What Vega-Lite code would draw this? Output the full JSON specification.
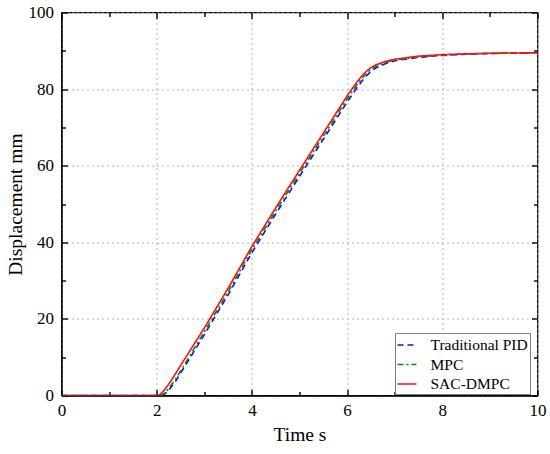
{
  "$schema": "https://vega.github.io/schema/vega-lite/v6.json",
  "width": 476,
  "height": 383,
  "autosize": "none",
  "padding": {"left": 61.5, "top": 12.5, "right": 12.5, "bottom": 58.5},
  "background": "white",
  "config": {
    "view": {"stroke": "black", "strokeWidth": 1.3},
    "axis": {
      "domainColor": "black",
      "domainWidth": 1.3,
      "tickColor": "black",
      "tickWidth": 1.4,
      "labelFont": "Liberation Serif",
      "labelFontSize": 17,
      "labelColor": "black",
      "labelFlush": false,
      "titleFont": "Liberation Serif",
      "titleFontSize": 19.5,
      "titleFontWeight": "normal",
      "titleColor": "black",
      "gridColor": "#b4b4b4",
      "gridDash": [2, 3],
      "gridWidth": 1
    }
  },
  "data": {
    "values": [
      {"t": 0, "d": 0, "s": "Traditional PID"},
      {"t": 2.1, "d": 0, "s": "Traditional PID"},
      {"t": 2.15, "d": 0.2, "s": "Traditional PID"},
      {"t": 2.25, "d": 1.3, "s": "Traditional PID"},
      {"t": 2.4, "d": 3.8, "s": "Traditional PID"},
      {"t": 2.6, "d": 7.8, "s": "Traditional PID"},
      {"t": 3.0, "d": 15.9, "s": "Traditional PID"},
      {"t": 3.5, "d": 26.3, "s": "Traditional PID"},
      {"t": 4.0, "d": 37.3, "s": "Traditional PID"},
      {"t": 4.5, "d": 47.4, "s": "Traditional PID"},
      {"t": 5.0, "d": 57.2, "s": "Traditional PID"},
      {"t": 5.5, "d": 66.9, "s": "Traditional PID"},
      {"t": 6.0, "d": 76.6, "s": "Traditional PID"},
      {"t": 6.1, "d": 78.4, "s": "Traditional PID"},
      {"t": 6.2, "d": 80.2, "s": "Traditional PID"},
      {"t": 6.3, "d": 81.9, "s": "Traditional PID"},
      {"t": 6.4, "d": 83.4, "s": "Traditional PID"},
      {"t": 6.5, "d": 84.6, "s": "Traditional PID"},
      {"t": 6.6, "d": 85.5, "s": "Traditional PID"},
      {"t": 6.8, "d": 86.6, "s": "Traditional PID"},
      {"t": 7.0, "d": 87.4, "s": "Traditional PID"},
      {"t": 7.5, "d": 88.3, "s": "Traditional PID"},
      {"t": 8.0, "d": 88.8, "s": "Traditional PID"},
      {"t": 8.5, "d": 89.1, "s": "Traditional PID"},
      {"t": 9.0, "d": 89.3, "s": "Traditional PID"},
      {"t": 10.0, "d": 89.5, "s": "Traditional PID"},
      {"t": 0, "d": 0, "s": "MPC"},
      {"t": 2.07, "d": 0, "s": "MPC"},
      {"t": 2.12, "d": 0.2, "s": "MPC"},
      {"t": 2.22, "d": 1.3, "s": "MPC"},
      {"t": 2.37, "d": 3.8, "s": "MPC"},
      {"t": 2.57, "d": 7.8, "s": "MPC"},
      {"t": 3.0, "d": 16.6, "s": "MPC"},
      {"t": 3.5, "d": 27.1, "s": "MPC"},
      {"t": 4.0, "d": 38.1, "s": "MPC"},
      {"t": 4.5, "d": 48.2, "s": "MPC"},
      {"t": 5.0, "d": 58.0, "s": "MPC"},
      {"t": 5.5, "d": 67.7, "s": "MPC"},
      {"t": 6.0, "d": 77.4, "s": "MPC"},
      {"t": 6.1, "d": 79.2, "s": "MPC"},
      {"t": 6.2, "d": 81.0, "s": "MPC"},
      {"t": 6.3, "d": 82.6, "s": "MPC"},
      {"t": 6.4, "d": 84.0, "s": "MPC"},
      {"t": 6.5, "d": 85.1, "s": "MPC"},
      {"t": 6.6, "d": 85.9, "s": "MPC"},
      {"t": 6.8, "d": 86.9, "s": "MPC"},
      {"t": 7.0, "d": 87.6, "s": "MPC"},
      {"t": 7.5, "d": 88.45, "s": "MPC"},
      {"t": 8.0, "d": 88.9, "s": "MPC"},
      {"t": 8.5, "d": 89.15, "s": "MPC"},
      {"t": 9.0, "d": 89.3, "s": "MPC"},
      {"t": 10.0, "d": 89.5, "s": "MPC"},
      {"t": 0, "d": 0, "s": "SAC-DMPC"},
      {"t": 2.0, "d": 0, "s": "SAC-DMPC"},
      {"t": 2.05, "d": 0.1, "s": "SAC-DMPC"},
      {"t": 2.15, "d": 1.2, "s": "SAC-DMPC"},
      {"t": 2.3, "d": 3.8, "s": "SAC-DMPC"},
      {"t": 2.5, "d": 7.8, "s": "SAC-DMPC"},
      {"t": 3.0, "d": 17.6, "s": "SAC-DMPC"},
      {"t": 3.5, "d": 28.0, "s": "SAC-DMPC"},
      {"t": 4.0, "d": 38.9, "s": "SAC-DMPC"},
      {"t": 4.5, "d": 49.0, "s": "SAC-DMPC"},
      {"t": 5.0, "d": 58.8, "s": "SAC-DMPC"},
      {"t": 5.5, "d": 68.5, "s": "SAC-DMPC"},
      {"t": 6.0, "d": 78.2, "s": "SAC-DMPC"},
      {"t": 6.1, "d": 80.0, "s": "SAC-DMPC"},
      {"t": 6.2, "d": 81.7, "s": "SAC-DMPC"},
      {"t": 6.3, "d": 83.3, "s": "SAC-DMPC"},
      {"t": 6.4, "d": 84.6, "s": "SAC-DMPC"},
      {"t": 6.5, "d": 85.6, "s": "SAC-DMPC"},
      {"t": 6.6, "d": 86.3, "s": "SAC-DMPC"},
      {"t": 6.8, "d": 87.2, "s": "SAC-DMPC"},
      {"t": 7.0, "d": 87.8, "s": "SAC-DMPC"},
      {"t": 7.5, "d": 88.6, "s": "SAC-DMPC"},
      {"t": 8.0, "d": 89.0, "s": "SAC-DMPC"},
      {"t": 8.5, "d": 89.2, "s": "SAC-DMPC"},
      {"t": 9.0, "d": 89.35, "s": "SAC-DMPC"},
      {"t": 10.0, "d": 89.5, "s": "SAC-DMPC"}
    ]
  },
  "layer": [
    {
      "mark": {"type": "line", "strokeWidth": 1.6, "clip": true},
      "encoding": {
        "x": {
          "field": "t", "type": "quantitative",
          "scale": {"domain": [0, 10], "nice": false},
          "axis": {
            "orient": "bottom",
            "title": "Time s",
            "values": [0, 2, 4, 6, 8, 10],
            "ticks": false,
            "labelPadding": 7,
            "grid": true,
            "titlePadding": 7
          }
        },
        "y": {
          "field": "d", "type": "quantitative",
          "scale": {"domain": [0, 100], "nice": false},
          "axis": {
            "orient": "left",
            "title": "Displacement mm",
            "values": [0, 20, 40, 60, 80, 100],
            "ticks": false,
            "labelPadding": 8,
            "grid": true,
            "titlePadding": 3
          }
        },
        "color": {
          "field": "s", "type": "nominal",
          "scale": {"domain": ["Traditional PID", "MPC", "SAC-DMPC"], "range": ["#1010ff", "#008a00", "#ff1010"]},
          "legend": {
            "title": null,
            "orient": "none",
            "legendX": 333.5,
            "legendY": 320.5,
            "strokeColor": "#808080",
            "fillColor": "white",
            "padding": 1.5,
            "symbolType": "stroke",
            "symbolSize": 361,
            "symbolStrokeWidth": 1.6,
            "labelFont": "Liberation Serif",
            "labelFontSize": 15.5,
            "labelColor": "black",
            "labelOffset": 13,
            "rowPadding": 0.5
          }
        },
        "strokeDash": {
          "field": "s", "type": "nominal",
          "scale": {"domain": ["Traditional PID", "MPC", "SAC-DMPC"], "range": [[6, 4], [6, 3, 2, 3], [1, 0]]},
          "legend": null
        }
      }
    },
    {
      "mark": {"type": "line", "opacity": 0},
      "encoding": {
        "x": {
          "field": "t", "type": "quantitative",
          "axis": {"orient": "bottom", "title": null, "labels": false, "grid": false, "domain": false, "values": [0, 2, 4, 6, 8, 10], "tickSize": 6, "offset": -6}
        },
        "y": {
          "field": "d", "type": "quantitative",
          "axis": {"orient": "left", "title": null, "labels": false, "grid": false, "domain": false, "values": [0, 20, 40, 60, 80, 100], "tickSize": 6, "offset": -6}
        },
        "detail": {"field": "s", "type": "nominal"}
      }
    },
    {
      "mark": {"type": "line", "opacity": 0},
      "encoding": {
        "x": {
          "field": "t", "type": "quantitative",
          "axis": {"orient": "top", "title": null, "labels": false, "grid": false, "domain": false, "values": [0, 2, 4, 6, 8, 10], "tickSize": 6, "offset": -6}
        },
        "y": {
          "field": "d", "type": "quantitative",
          "axis": {"orient": "right", "title": null, "labels": false, "grid": false, "domain": false, "values": [0, 20, 40, 60, 80, 100], "tickSize": 6, "offset": -6}
        },
        "detail": {"field": "s", "type": "nominal"}
      }
    },
    {
      "mark": {"type": "line", "opacity": 0},
      "encoding": {
        "x": {
          "field": "t", "type": "quantitative",
          "axis": {"orient": "bottom", "title": null, "labels": false, "grid": false, "domain": false, "values": [1, 3, 5, 7, 9], "tickSize": 4, "offset": -4}
        },
        "y": {
          "field": "d", "type": "quantitative",
          "axis": {"orient": "left", "title": null, "labels": false, "grid": false, "domain": false, "values": [10, 30, 50, 70, 90], "tickSize": 4, "offset": -4}
        },
        "detail": {"field": "s", "type": "nominal"}
      }
    },
    {
      "mark": {"type": "line", "opacity": 0},
      "encoding": {
        "x": {
          "field": "t", "type": "quantitative",
          "axis": {"orient": "top", "title": null, "labels": false, "grid": false, "domain": false, "values": [1, 3, 5, 7, 9], "tickSize": 4, "offset": -4}
        },
        "y": {
          "field": "d", "type": "quantitative",
          "axis": {"orient": "right", "title": null, "labels": false, "grid": false, "domain": false, "values": [10, 30, 50, 70, 90], "tickSize": 4, "offset": -4}
        },
        "detail": {"field": "s", "type": "nominal"}
      }
    }
  ],
  "resolve": {"axis": {"x": "independent", "y": "independent"}}
}
